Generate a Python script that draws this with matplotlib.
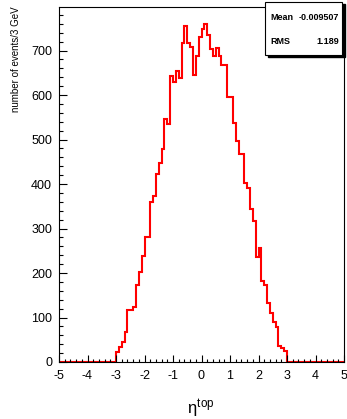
import numpy as np
import matplotlib
matplotlib.use("Agg")
import matplotlib.pyplot as plt
from matplotlib.patches import Rectangle
from matplotlib.ticker import MultipleLocator

plt.rcParams['font.family'] = ['Liberation Sans', 'DejaVu Sans']
plt.rcParams['mathtext.fontset'] = 'custom'
plt.rcParams['mathtext.rm'] = 'Liberation Sans'
plt.rcParams['mathtext.it'] = 'Liberation Sans'
plt.rcParams['axes.unicode_minus'] = False

# histogram range and binning (0.1 wide bins from -5 to 5)
x_lo, x_hi, n_bins = -5.0, 5.0, 100

# events per bin, eta from -3.0 to 3.0 (the rest of the range is empty)
counts_neg = [23, 34, 45, 68, 116, 116, 124, 172, 202, 239,
              280, 280, 359, 374, 422, 448, 478, 547, 534, 644,
              630, 655, 638, 718, 755, 718, 708, 646, 688, 731]
counts_pos = [748, 760, 735, 703, 687, 705, 688, 667, 667, 595,
              595, 537, 497, 467, 467, 403, 392, 344, 316, 237,
              257, 183, 172, 133, 110, 90, 78, 36, 31, 25]
empty_low = [0] * 20
empty_high = [0] * 20

stat_mean = "-0.009507"
stat_rms = "1.189"

counts = np.array(empty_low + counts_neg + counts_pos + empty_high, dtype=float)
edges = np.linspace(x_lo, x_hi, n_bins + 1)

fig = plt.figure(figsize=(3.47, 4.19), dpi=100)
ax = fig.add_axes([59 / 347, 1 - 362 / 419, 285 / 347, 355 / 419])

ax.stairs(counts, edges, color='red', lw=1.5)

ax.set_xlim(x_lo, x_hi)
ax.set_ylim(0, counts.max() * 1.05)

ax.xaxis.set_major_locator(MultipleLocator(1))
ax.xaxis.set_minor_locator(MultipleLocator(0.2))
ax.yaxis.set_major_locator(MultipleLocator(100))
ax.yaxis.set_minor_locator(MultipleLocator(20))

ax.tick_params(axis='both', which='both', direction='in', top=False, right=False,
               labelsize=9, width=0.8)
ax.tick_params(axis='x', which='major', length=5, pad=6)
ax.tick_params(axis='x', which='minor', length=2.5)
ax.tick_params(axis='y', which='major', length=6, pad=5)
ax.tick_params(axis='y', which='minor', length=3)
for sp in ax.spines.values():
    sp.set_linewidth(0.8)

fig.text(16 / 347, 1 - 6 / 419, "number of events/3 GeV", rotation=90,
         ha='center', va='top', fontsize=7)
fig.text(201 / 347, 1 - 414 / 419, r"$\eta^{\mathrm{top}}$", ha='center',
         va='baseline', fontsize=12)

# stats box with shadow
bx, by, bw, bh = 265 / 347, 1 - 55 / 419, 77 / 347, 53 / 419
fig.patches.append(Rectangle((bx + 2.5 / 347, by - 2.5 / 419), bw, bh, transform=fig.transFigure,
                             facecolor='black', edgecolor='black', zorder=5))
fig.patches.append(Rectangle((bx, by), bw, bh, transform=fig.transFigure,
                             facecolor='white', edgecolor='black', lw=0.8, zorder=6))
fig.text(270 / 347, 1 - 18 / 419, "Mean", fontsize=6.5, fontweight='bold', va='center', zorder=7)
fig.text(339 / 347, 1 - 18 / 419, stat_mean, fontsize=6.5, fontweight='bold', va='center',
         ha='right', zorder=7)
fig.text(270 / 347, 1 - 41 / 419, "RMS", fontsize=6.5, fontweight='bold', va='center', zorder=7)
fig.text(339 / 347, 1 - 41 / 419, stat_rms, fontsize=6.5, fontweight='bold', va='center',
         ha='right', zorder=7)

fig.savefig("out.png", dpi=100)
